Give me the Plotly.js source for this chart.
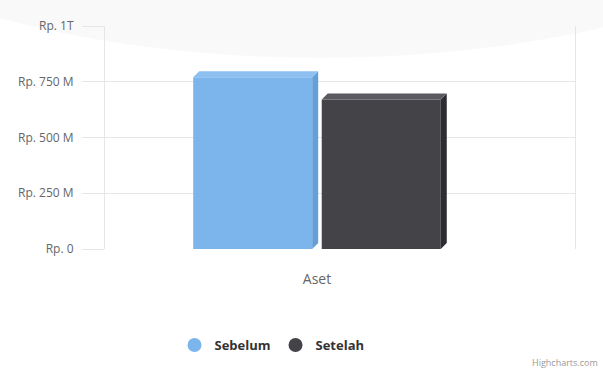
<!DOCTYPE html>
<html>
<head>
<meta charset="utf-8">
<script src="https://cdn.plot.ly/plotly-3.0.1.min.js"></script>
<style>
html,body{margin:0;padding:0;background:#fff;}
#chart{width:603px;height:370px;}
</style>
</head>
<body>
<div id="chart"></div>
<script>
// ---- data ----
var categories = ['Aset'];
var seriesNames = ['Sebelum', 'Setelah'];
var sebelum = [770];   // in Rp. Miliar (M)
var setelah = [670];
var tickValues = [0, 250, 500, 750, 1000];
var tickLabels = ['Rp. 0', 'Rp. 250 M', 'Rp. 500 M', 'Rp. 750 M', 'Rp. 1T'];

// ---- style ----
var colors = ['#7cb5ec', '#434348'];
var sideColors = ['#659fd8', '#2c2c31'];
var topColors = ['#8dc0f0', '#5a5a61'];

var W = 603, H = 370;
var M = {l: 105, r: 28, t: 26, b: 120};
var plotW = W - M.l - M.r, plotH = H - M.t - M.b;
var yMax = 1000;
var bargap = 0.453, bargroupgap = 0.074;
var xRange = [-0.451, 0.549];

var allSeries = [sebelum, setelah];
var traces = [];
allSeries.forEach(function (vals, i) {
  traces.push({
    type: 'bar', x: categories, y: vals, name: seriesNames[i],
    marker: {color: colors[i]}, showlegend: false, hoverinfo: 'skip'
  });
});
allSeries.forEach(function (vals, i) {
  traces.push({
    type: 'scatter', mode: 'markers', x: [null], y: [null], name: seriesNames[i],
    marker: {color: colors[i], size: 14, symbol: 'circle'}, showlegend: true
  });
});

// pseudo-3D faces derived from the data values
var ux = (xRange[1] - xRange[0]) / plotW, uy = yMax / plotH;
var dx = 6 * ux, dy = 6 * uy;
var groupW = 1 - bargap, slot = groupW / allSeries.length, bw = slot * (1 - bargroupgap);
var shapes = [];
allSeries.forEach(function (vals, i) {
  vals.forEach(function (v, c) {
    var cx = c - groupW / 2 + slot * (i + 0.5);
    var xl = cx - bw / 2, xr = cx + bw / 2;
    shapes.push({type: 'path', xref: 'x', yref: 'y', layer: 'above', line: {width: 0},
      fillcolor: sideColors[i],
      path: 'M' + xr + ',0 L' + (xr + dx) + ',' + dy + ' L' + (xr + dx) + ',' + (v + dy) + ' L' + xr + ',' + v + ' Z'});
    shapes.push({type: 'path', xref: 'x', yref: 'y', layer: 'above', line: {width: 0},
      fillcolor: topColors[i],
      path: 'M' + xl + ',' + v + ' L' + (xl + dx) + ',' + (v + dy) + ' L' + (xr + dx) + ',' + (v + dy) + ' L' + xr + ',' + v + ' Z'});
  });
});
// faint watermark behind the chart
shapes.push({type: 'circle', xref: 'paper', yref: 'paper', layer: 'below', line: {width: 0},
  fillcolor: 'rgba(0,0,0,0.025)',
  x0: (-260 - M.l) / plotW, x1: (900 - M.l) / plotW,
  y0: (M.t + plotH - 58) / plotH, y1: (M.t + plotH + 420) / plotH});

var layout = {
  width: W, height: H,
  margin: M,
  paper_bgcolor: '#ffffff', plot_bgcolor: 'rgba(0,0,0,0)',
  font: {family: 'Open Sans, DejaVu Sans, sans-serif', color: '#666666'},
  barmode: 'group', bargap: bargap, bargroupgap: bargroupgap,
  xaxis: {type: 'category', range: xRange, showgrid: false, zeroline: false, showline: false,
    ticks: '', tickfont: {size: 14, color: '#666666'}, ticklabelstandoff: 20, fixedrange: true},
  yaxis: {range: [0, yMax], tickvals: tickValues, ticktext: tickLabels,
    showgrid: true, gridcolor: '#e6e6e6', gridwidth: 1, zeroline: false,
    showline: true, mirror: true, linecolor: '#e6e6e6', linewidth: 1,
    ticks: 'outside', ticklen: 22, tickcolor: '#e6e6e6', tickwidth: 1,
    ticklabelstandoff: 6,
    tickfont: {size: 12, color: '#666666'}, fixedrange: true},
  legend: {orientation: 'h', x: (272 - M.l) / plotW, xanchor: 'center',
    y: (M.t + plotH - 345) / plotH, yanchor: 'middle',
    font: {size: 13, color: '#333333', weight: 'bold'}, itemwidth: 30, tracegroupgap: 0},
  shapes: shapes,
  annotations: [{xref: 'paper', yref: 'paper', x: (600 - M.l) / plotW, y: (M.t + plotH - 364) / plotH,
    xanchor: 'right', yanchor: 'middle', showarrow: false, text: 'Highcharts.com',
    font: {size: 9, color: '#999999'}}]
};

Plotly.newPlot('chart', traces, layout, {displayModeBar: false, staticPlot: true});
</script>
</body>
</html>
